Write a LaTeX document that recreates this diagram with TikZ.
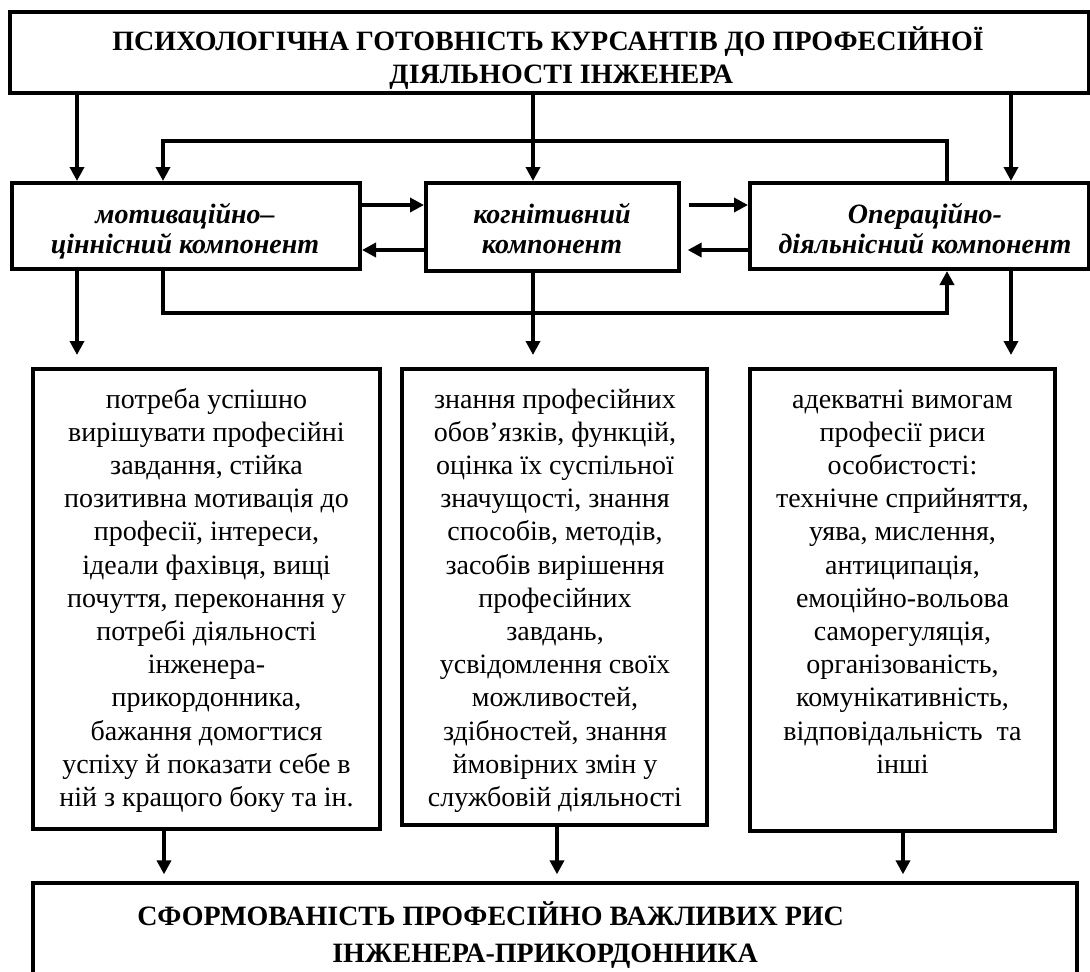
\documentclass[tikz,border=0pt]{standalone}
\usepackage{fontspec}
\setmainfont{Liberation Serif}
\usetikzlibrary{arrows.meta,fit}
\newcommand{\tb}[3]{{\fontsize{21}{#1}\selectfont#2\begin{tabular}[t]{@{}c@{}}#3\end{tabular}}}
\begin{document}
\begin{tikzpicture}[x=0.75pt,y=-0.75pt,
  box/.style={draw,line width=3pt,inner sep=0pt,fit={#1}},
  arr/.style={line width=3pt,-{Triangle[width=10.5pt,length=10.5pt]}},
  txt/.style={anchor=base,inner sep=0pt}]
\useasboundingbox (0,0) rectangle (1090,972);
\clip (0,0) rectangle (1090,972);
% boxes
\node[box={(10,12) (1089,93)}] (top) {};
\node[box={(12,183) (360,269)}] (A) {};
\node[box={(426,183) (679,271)}] (B) {};
\node[box={(750,183) (1089,269)}] (C) {};
\node[box={(33,369) (380,829)}] (L) {};
\node[box={(402,369) (707,825)}] (M) {};
\node[box={(750,369) (1055,831)}] (R) {};
\node[box={(33,883) (1077,995)}] (bot) {};
% texts
\node[txt] (tTop) at (548,50) {\tb{24.75pt}{\bfseries}{ПСИХОЛОГІЧНА ГОТОВНІСТЬ КУРСАНТІВ ДО ПРОФЕСІЙНОЇ\\\hspace*{20pt}ДІЯЛЬНОСТІ ІНЖЕНЕРА}};
\node[txt] (tA) at (185,223) {\tb{22.5pt}{\bfseries\itshape}{мотиваційно–\\ціннісний компонент}};
\node[txt] (tB) at (552,223) {\tb{22.5pt}{\bfseries\itshape}{когнітивний\\компонент}};
\node[txt] (tC) at (925,223) {\tb{22.5pt}{\bfseries\itshape}{Операційно-\\діяльнісний компонент}};
\node[txt] (tL) at (206.5,408) {\tb{24.9pt}{}{потреба успішно\\вирішувати професійні\\завдання, стійка\\позитивна мотивація до\\професії, інтереси,\\ідеали фахівця, вищі\\почуття, переконання у\\потребі діяльності\\інженера-\\прикордонника,\\бажання домогтися\\успіху й показати себе в\\ній з кращого боку та ін.}};
\node[txt] (tM) at (555,408) {\tb{24.9pt}{}{знання професійних\\обов’язків, функцій,\\оцінка їх суспільної\\значущості, знання\\способів, методів,\\засобів вирішення\\професійних\\завдань,\\усвідомлення своїх\\можливостей,\\здібностей, знання\\ймовірних змін у\\службовій діяльності}};
\node[txt] (tR) at (902.5,408) {\tb{24.9pt}{}{адекватні вимогам\\професії риси\\особистості:\\технічне сприйняття,\\уява, мислення,\\антиципація,\\емоційно-вольова\\саморегуляція,\\організованість,\\комунікативність,\\відповідальність\ \ та\\інші}};
\node[txt,anchor=base west] (tBot1) at (137,925) {\tb{24.9pt}{\bfseries}{СФОРМОВАНІСТЬ ПРОФЕСІЙНО ВАЖЛИВИХ РИС}};
\node[txt,anchor=base west] (tBot2) at (332,962) {\tb{24.9pt}{\bfseries}{ІНЖЕНЕРА-ПРИКОРДОННИКА}};
% columns
\coordinate (c1) at (77,0);
\coordinate (c2) at (533,0);
\coordinate (c3) at (1011,0);
\coordinate (f1) at (163,0);
\coordinate (f2) at (947,0);
\coordinate (d1) at (164,0);
\coordinate (d2) at (557,0);
\coordinate (d3) at (903,0);
\coordinate (ftop) at (0,141);
\coordinate (fbot) at (0,313);
\coordinate (r1) at (0,205);
\coordinate (r2) at (0,250);
% arrows from top
\draw[arr] (top.south -| c1) -- (A.north -| c1);
\draw[arr] (top.south -| c2) -- (B.north -| c2);
\draw[arr] (top.south -| c3) -- (C.north -| c3);
% feedback loops
\draw[arr] (C.north -| f2) -- (f2 |- ftop) -| (A.north -| f1);
\draw[arr] (A.south -| f1) -- (f1 |- fbot) -| (C.south -| f2);
% horizontal arrows
\draw[arr] (A.east |- r1) -- (B.west |- r1);
\draw[arr] (B.west |- r2) -- (A.east |- r2);
\draw[arr,shorten <=6pt] (B.east |- r1) -- (C.west |- r1);
\draw[arr,shorten >=5pt] (C.west |- r2) -- (B.east |- r2);
% down arrows to lower boxes
\draw[arr,shorten >=9pt] (A.south -| c1) -- (L.north -| c1);
\draw[arr,shorten >=9pt] (B.south -| c2) -- (M.north -| c2);
\draw[arr,shorten >=9pt] (C.south -| c3) -- (R.north -| c3);
% arrows to bottom box
\draw[arr,shorten >=5pt] (L.south -| d1) -- (bot.north -| d1);
\draw[arr,shorten >=5pt] (M.south -| d2) -- (bot.north -| d2);
\draw[arr,shorten >=5pt] (R.south -| d3) -- (bot.north -| d3);
\end{tikzpicture}
\end{document}
